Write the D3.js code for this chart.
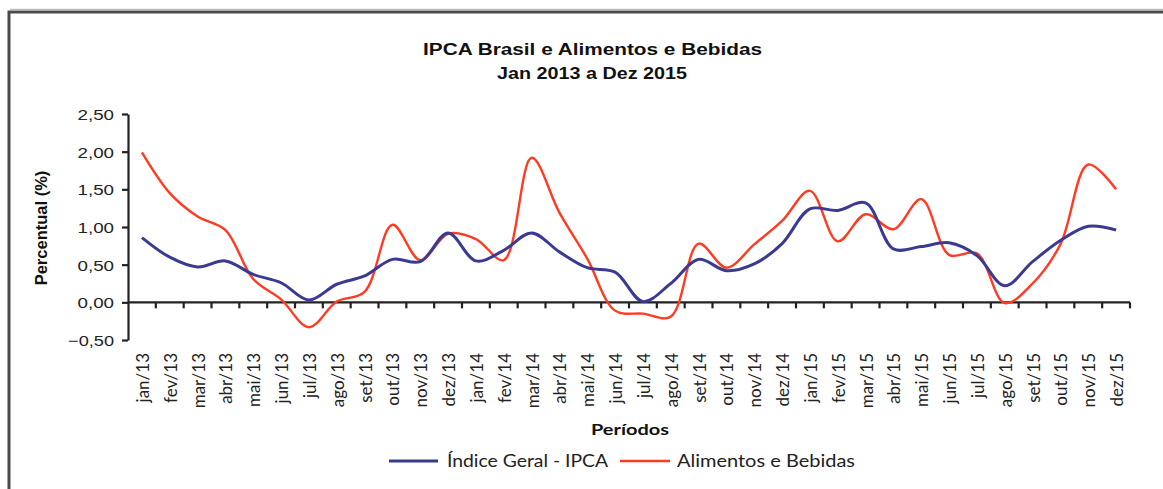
<!DOCTYPE html>
<html>
<head>
<meta charset="utf-8">
<script src="https://cdn.jsdelivr.net/npm/d3@7"></script>
<style>
  html, body { margin: 0; padding: 0; background: #fff; }
  svg { display: block; }
</style>
</head>
<body>
<svg id="chart" width="1163" height="489"></svg>
<script>
// Monthly periods, Jan 2013 to Dec 2015
const periods = [
  "jan/13","fev/13","mar/13","abr/13","mai/13","jun/13","jul/13","ago/13","set/13","out/13","nov/13","dez/13",
  "jan/14","fev/14","mar/14","abr/14","mai/14","jun/14","jul/14","ago/14","set/14","out/14","nov/14","dez/14",
  "jan/15","fev/15","mar/15","abr/15","mai/15","jun/15","jul/15","ago/15","set/15","out/15","nov/15","dez/15"
];

// Índice Geral - IPCA (% per month)
const ipcaGeral = [
  0.86, 0.60, 0.47, 0.55, 0.37, 0.26, 0.03, 0.24, 0.35, 0.57, 0.54, 0.92,
  0.55, 0.69, 0.92, 0.67, 0.46, 0.40, 0.01, 0.25, 0.57, 0.42, 0.51, 0.78,
  1.24, 1.22, 1.32, 0.71, 0.74, 0.79, 0.62, 0.22, 0.54, 0.82, 1.01, 0.96
];

// Alimentos e Bebidas (% per month)
const alimentos = [
  1.99, 1.45, 1.14, 0.96, 0.31, 0.04, -0.33, 0.01, 0.14, 1.03, 0.56, 0.91,
  0.84, 0.56, 1.92, 1.19, 0.58, -0.11, -0.15, -0.19, 0.78, 0.46, 0.77, 1.08,
  1.48, 0.81, 1.17, 0.97, 1.37, 0.63, 0.65, -0.01, 0.25, 0.77, 1.83, 1.50
];

const yTicks = [-0.5, 0, 0.5, 1.0, 1.5, 2.0, 2.5];
const seriesNames = ["Índice Geral - IPCA", "Alimentos e Bebidas"];
const seriesColors = ["#3b3a92", "#ff3b22"];

const svg = d3.select("#chart");

// outer frame
svg.append("path")
  .attr("d", "M9,500 L9,12 L1175,12")
  .attr("fill", "none")
  .attr("stroke", "#4a4a4a")
  .attr("stroke-width", 3);
svg.append("line")
  .attr("x1", 10).attr("x2", 1175).attr("y1", 9.5).attr("y2", 9.5)
  .attr("stroke", "#bbb").attr("stroke-width", 1.5);

const plotLeft = 128, plotRight = 1130;

const x = d3.scaleBand().domain(periods).range([plotLeft, plotRight]).padding(0);
const y = d3.scaleLinear().domain([-0.5, 2.5]).range([340, 114]);

const fmt = v => d3.format(".2f")(v).replace(".", ",");

// title
const title = svg.append("g")
  .attr("font-family", "Liberation Sans, Arial, sans-serif")
  .attr("font-weight", "bold")
  .attr("font-size", 16)
  .attr("fill", "#111")
  .attr("text-anchor", "middle");
title.append("text").attr("x", 592.5).attr("y", 55)
  .attr("textLength", 339).attr("lengthAdjust", "spacingAndGlyphs")
  .text("IPCA Brasil e Alimentos e Bebidas");
title.append("text").attr("x", 592).attr("y", 78.5)
  .attr("textLength", 190).attr("lengthAdjust", "spacingAndGlyphs")
  .text("Jan 2013 a Dez 2015");

// y axis
const yAxis = svg.append("g")
  .attr("transform", `translate(${plotLeft},0)`)
  .call(d3.axisLeft(y).tickValues(yTicks).tickSize(6).tickSizeOuter(0).tickFormat(fmt));
yAxis.select(".domain").attr("stroke", "#222").attr("stroke-width", 2.2);
yAxis.selectAll(".tick line").attr("stroke", "#222").attr("stroke-width", 2.2);
yAxis.selectAll(".tick text")
  .attr("x", -14)
  .attr("dy", "0.36em")
  .attr("font-family", "Liberation Sans, Arial, sans-serif")
  .attr("font-size", 15)
  .attr("fill", "#222")
  .attr("textLength", d => d < 0 ? 46 : 36.5)
  .attr("lengthAdjust", "spacingAndGlyphs");

// x axis at zero, ticks between categories
const xAxisG = svg.append("g").attr("transform", `translate(0,${y(0)})`);
xAxisG.append("line")
  .attr("x1", plotLeft).attr("x2", plotRight)
  .attr("stroke", "#222").attr("stroke-width", 2.2);
xAxisG.selectAll("line.tk")
  .data(periods)
  .join("line")
  .attr("class", "tk")
  .attr("x1", d => x(d) + x.bandwidth())
  .attr("x2", d => x(d) + x.bandwidth())
  .attr("y1", 0).attr("y2", 6)
  .attr("stroke", "#222").attr("stroke-width", 2.2);

// category labels, rotated
svg.append("g")
  .selectAll("text")
  .data(periods)
  .join("text")
  .attr("transform", d => `translate(${x(d) + x.bandwidth() / 2 + 7},353) rotate(-90)`)
  .attr("text-anchor", "end")
  .attr("font-family", "Lato, sans-serif")
  .attr("font-size", 17)
  .attr("fill", "#222")
  .text(d => d);

// axis titles
svg.append("text")
  .attr("transform", "translate(47,228) rotate(-90)")
  .attr("text-anchor", "middle")
  .attr("font-family", "Liberation Sans, Arial, sans-serif")
  .attr("font-weight", "bold")
  .attr("font-size", 16.5)
  .attr("fill", "#111")
  .text("Percentual (%)");

svg.append("text")
  .attr("x", 630).attr("y", 435)
  .attr("text-anchor", "middle")
  .attr("font-family", "Lato, sans-serif")
  .attr("font-weight", "bold")
  .attr("font-size", 16)
  .attr("fill", "#111")
  .attr("textLength", 78).attr("lengthAdjust", "spacingAndGlyphs")
  .text("Períodos");

// series lines
const line = d3.line()
  .x((d, i) => x(periods[i]) + x.bandwidth() / 2)
  .y(d => y(d))
  .curve(d3.curveCatmullRom.alpha(0.5));

svg.append("path")
  .datum(alimentos)
  .attr("d", line)
  .attr("fill", "none")
  .attr("stroke", seriesColors[1])
  .attr("stroke-width", 2.4)
  .attr("stroke-linejoin", "round");

svg.append("path")
  .datum(ipcaGeral)
  .attr("d", line)
  .attr("fill", "none")
  .attr("stroke", seriesColors[0])
  .attr("stroke-width", 3)
  .attr("stroke-linejoin", "round");

// legend
const legend = [
  { name: seriesNames[0], color: seriesColors[0], x0: 389, x1: 438, tx: 447, tw: 161, sw: 3 },
  { name: seriesNames[1], color: seriesColors[1], x0: 620, x1: 670, tx: 677, tw: 178, sw: 2.6 }
];
const lg = svg.append("g");
legend.forEach(l => {
  lg.append("line")
    .attr("x1", l.x0).attr("x2", l.x1).attr("y1", 461).attr("y2", 461)
    .attr("stroke", l.color).attr("stroke-width", l.sw);
  lg.append("text")
    .attr("x", l.tx).attr("y", 467)
    .attr("font-family", "Lato, sans-serif")
    .attr("font-size", 17)
    .attr("fill", "#222")
    .attr("textLength", l.tw).attr("lengthAdjust", "spacingAndGlyphs")
    .text(l.name);
});
</script>
</body>
</html>
